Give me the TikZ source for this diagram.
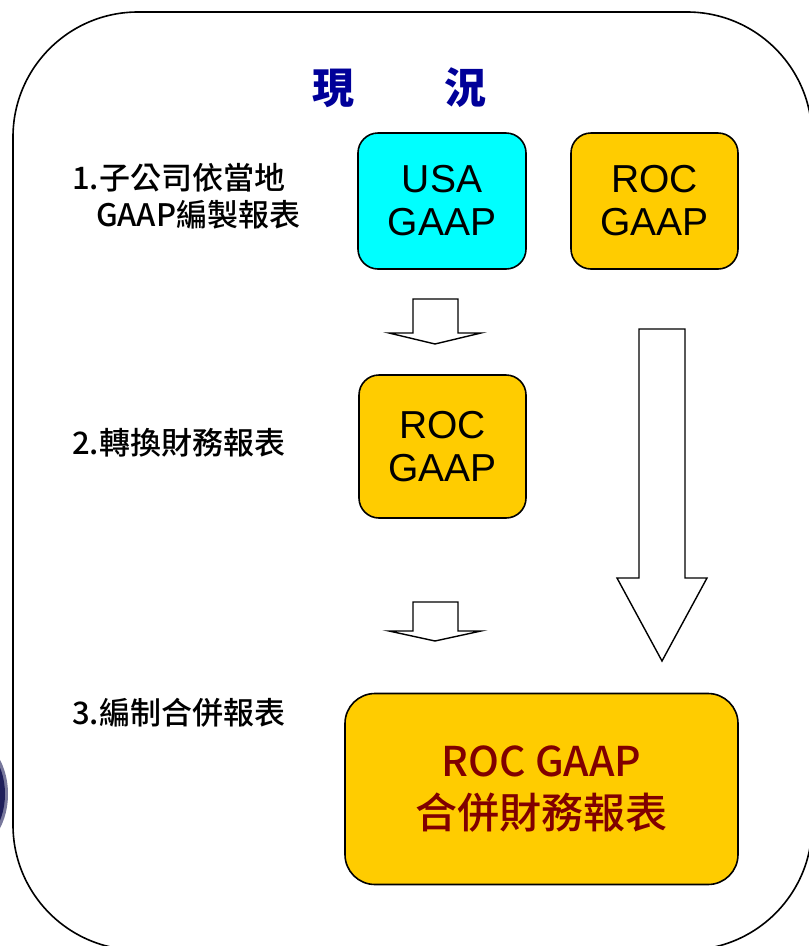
\documentclass[tikz,border=0pt]{standalone}
\usepackage{fontspec}
\setmainfont{Liberation Sans}
\IfFontExistsTF{Noto Sans CJK TC Medium}
  {\newfontfamily\cjk{Noto Sans CJK TC Medium}}
  {\newfontfamily\cjk{Noto Sans CJK TC}}
\definecolor{gaapgold}{RGB}{255,204,0}
\definecolor{gaapcyan}{RGB}{0,255,255}
\definecolor{titleblue}{RGB}{0,0,153}
\definecolor{finalred}{RGB}{128,0,0}
\definecolor{blobnavy}{RGB}{30,30,90}

\begin{document}
\begin{tikzpicture}[x=1pt,y=-1pt]
\tikzstyle{every node}+=[inner sep=0pt]
\tikzset{
  gaapbox/.style={draw=black, line width=1.6pt, rounded corners=20pt, align=center,
    font=\fontsize{39}{43}\selectfont},
  steplabel/.style={anchor=west, align=left, font=\cjk\fontsize{31}{37}\selectfont},
  blockarrow/.style={draw=black, line width=1.4pt, fill=white, line join=miter}
}
\useasboundingbox (0,0) rectangle (809,946);
\clip (0,0) rectangle (809,946);
% frame and the blob at the left edge
\fill [blobnavy, opacity=0.6] (-40,794) ellipse (48 and 62);
\fill [blobnavy] (-40,794) ellipse (45 and 58);
\draw [black, line width=1.6pt, rounded corners=125pt] (13,12) rectangle (812,950);
% title
\node (tx) at (333,88) {\cjk\bfseries\fontsize{42}{42}\selectfont\color{titleblue}現};
\node (ty) at (465,88) {\cjk\bfseries\fontsize{42}{42}\selectfont\color{titleblue}況};
% step labels
\node [steplabel] (s1) at (72,196) {1.子公司依當地\\\hspace{24pt}GAAP編製報表};
\node [steplabel] (s2) at (72,443) {2.轉換財務報表};
\node [steplabel] (s3) at (72,713) {3.編制合併報表};
% boxes
\node [gaapbox, fill=gaapcyan, minimum width=168pt, minimum height=136pt] (usa) at (442,201) {USA\\GAAP};
\node [gaapbox, fill=gaapgold, minimum width=167pt, minimum height=136pt] (roca) at (654.5,201) {ROC\\GAAP};
\node [gaapbox, fill=gaapgold, minimum width=167pt, minimum height=143pt] (rocb) at (442.5,446.5) {ROC\\GAAP};
\node [draw=black, line width=1.6pt, rounded corners=30pt, fill=gaapgold, align=center,
  minimum width=393pt, minimum height=191pt, text=finalred,
  font=\cjk\fontsize{42}{50}\selectfont] (final) at (541.5,789)
  {{\fontsize{41}{50}\selectfont ROC GAAP}\\[2pt]合併財務報表};
% arrows
\draw [blockarrow] (413,299) -- (458,299) -- (458,333) -- (481,333) -- (435,344) -- (389,333) -- (413,333) -- cycle;
\draw [blockarrow] (413,602) -- (458,602) -- (458,631) -- (481,631) -- (435,641) -- (389,631) -- (413,631) -- cycle;
\draw [blockarrow] (639,329) -- (685,329) -- (685,578) -- (707,578) -- (662,661) -- (617,578) -- (639,578) -- cycle;
\end{tikzpicture}
\end{document}
